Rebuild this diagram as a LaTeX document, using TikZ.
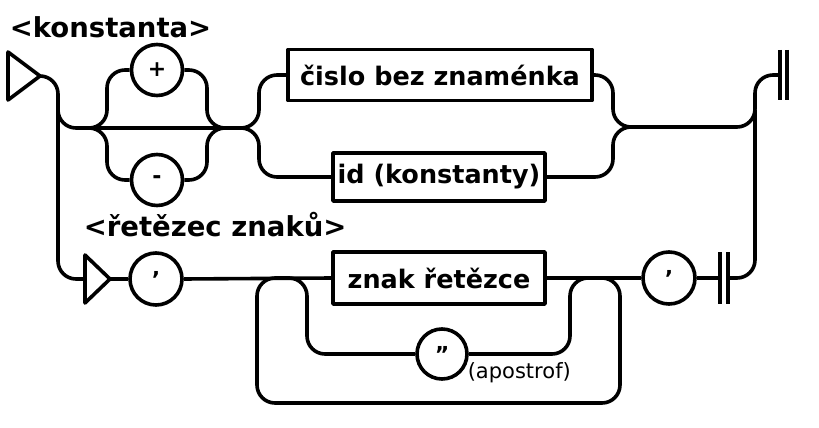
\documentclass[tikz,border=0pt]{standalone}
\usepackage{fontspec}
\setmainfont{DejaVu Sans}
\begin{document}
\begin{tikzpicture}[x=1pt,y=-1pt,line width=3.6pt,line join=round,
  lbl/.style={font=\bfseries\fontsize{27.5}{32}\selectfont,inner sep=0pt},
  term/.style={draw,circle,minimum size=51pt,inner sep=0pt,font=\bfseries\fontsize{22}{26}\selectfont},
  nbox/.style={draw,rectangle,inner sep=0pt,font=\bfseries\fontsize{25.5}{30}\selectfont},
  rr/.style={rounded corners=18pt},
  note/.style={font=\fontsize{21}{24}\selectfont,inner sep=0pt}]
\useasboundingbox (0,0) rectangle (819,428);
% titles
\node[lbl,anchor=base west] (t1) at (8,38) {<konstanta>};
\node[lbl,anchor=base west] (t2) at (82,236) {<řetězec znaků>};
% terminals and boxes
\node[term] (plus) at (157,70) {+};
\node[term] (minus) at (157,180) {-};
\node[nbox,minimum width=304pt,minimum height=51pt] (b1) at (440,75) {čislo bez znaménka};
\node[nbox,minimum width=212pt,minimum height=48pt] (b2) at (439,177) {id (konstanty)};
\node[term,minimum size=52pt] (q1) at (156,279) {'};
\node[nbox,minimum width=212pt,minimum height=52pt] (b3) at (439,278) {znak řetězce};
\node[term,minimum size=52pt] (q2) at (669,278) {'};
\node[term,minimum size=50pt] (q3) at (442,354) {''};
\node[note,anchor=base west] (ap) at (466,378) {(apostrof)};
% start triangles
\coordinate (s1) at (40,76);
\draw (8,52) -- (s1) -- (8,100) -- cycle;
\coordinate (s2in) at (85,279);
\coordinate (s2) at (110,279);
\draw (85,255) -- (s2) -- (85,303) -- cycle;
% end bars
\coordinate (e1) at (780,75);
\draw (780,50) -- (780,100);
\draw (787,50) -- (787,100);
\coordinate (e2) at (720,278);
\coordinate (e2r) at (728,278);
\draw (720,252) -- (720,304);
\draw (728,252) -- (728,304);
% junction coordinates
\coordinate (j1) at (80,128);
\coordinate (j2) at (233,128);
\coordinate (j3) at (633,127);
% konstanta connectors
\draw[rr] (s1) -- (58,76) -- (58,279) -- (s2in);
\draw[rr] (58,100) -- (58,128) -- (j1);
\draw (j1) -- (j2);
\draw[rr] (j1) -- (107,128) -- (107,70) -- (plus.west);
\draw[rr] (plus.east) -- (207,70) -- (207,128) -- (j2);
\draw[rr] (j1) -- (107,128) -- (107,180) -- (minus.west);
\draw[rr] (minus.east) -- (207,180) -- (207,128) -- (j2);
\draw[rr] (j2) -- (259,128) -- (259,75) -- (b1.west);
\draw[rr] (j2) -- (259,128) -- (259,177) -- (b2.west);
\draw[rr] (b1.east) -- (613,75) -- (613,127) -- (j3);
\draw[rr] (b2.east) -- (613,177) -- (613,127) -- (j3);
\draw[rr] (j3) -- (755,127) -- (755,75) -- (e1);
\draw[rr] (e2r) -- (755,278) -- (755,110);
% string connectors
\draw (s2) -- (q1.west);
\draw (q1.east) -- (b3.west);
\draw (b3.east) -- (q2.west);
\draw (q2.east) -- (e2);
\draw[rr] (590,278) -- (620,278) -- (620,403) -- (257,403) -- (257,278) -- (290,278);
\draw[rr] (590,278) -- (570,278) -- (570,354) -- (q3.east);
\draw[rr] (q3.west) -- (307,354) -- (307,278) -- (280,278);
\end{tikzpicture}
\end{document}
